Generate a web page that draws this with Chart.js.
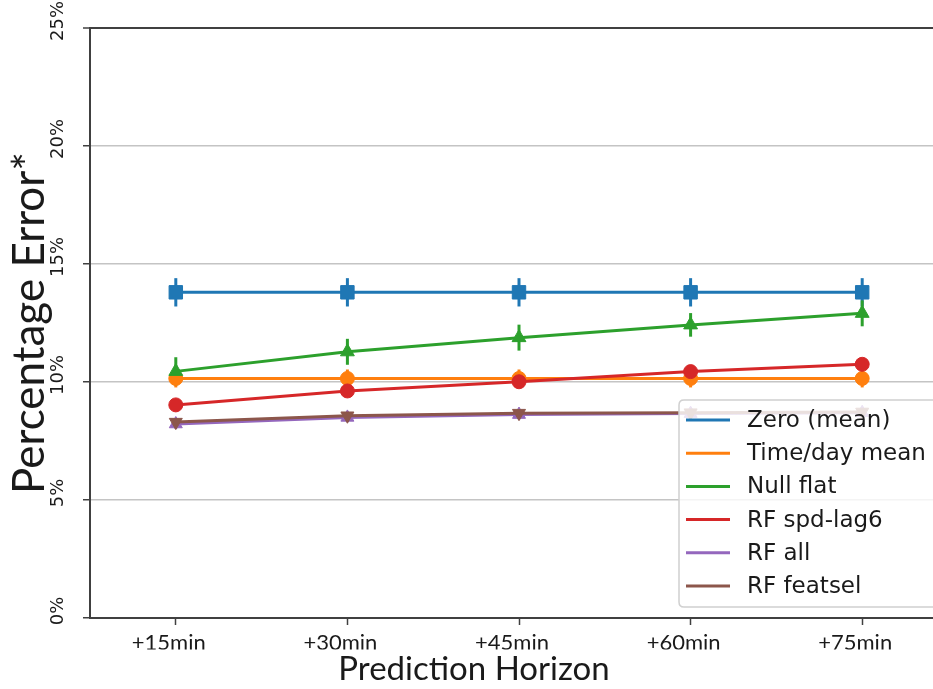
<!DOCTYPE html>
<html><head><meta charset="utf-8">
<script src="https://cdn.jsdelivr.net/npm/chart.js@4.4.1/dist/chart.umd.min.js"></script>
<style>
html,body{margin:0;padding:0;background:#fff;overflow:hidden;}
#wrap{position:relative;width:960px;height:689px;}
</style></head><body>
<div id="wrap"><canvas id="c"></canvas></div>
<script>
const categories = ['+15min','+30min','+45min','+60min','+75min'];
const yTickValues = [0,5,10,15,20,25];
const seriesNames = ['Zero (mean)','Time/day mean','Null flat','RF spd-lag6','RF all','RF featsel'];
const seriesColors = ['#1f77b4','#ff7f0e','#2ca02c','#d62728','#9467bd','#8c564b'];

const zeroMean      = [13.8, 13.8, 13.8, 13.8, 13.8];
const zeroMeanErr   = [0.6, 0.6, 0.6, 0.6, 0.6];
const timeDayMean   = [10.15, 10.15, 10.15, 10.15, 10.15];
const timeDayErr    = [0.38, 0.38, 0.38, 0.38, 0.38];
const nullFlat      = [10.45, 11.28, 11.88, 12.42, 12.91];
const nullFlatErr   = [0.6, 0.55, 0.55, 0.5, 0.55];
const rfSpdLag6     = [9.03, 9.62, 10.01, 10.44, 10.75];
const rfSpdLag6Err  = [0.15, 0.15, 0.15, 0.15, 0.15];
const rfAll         = [8.22, 8.5, 8.62, 8.66, 8.7];
const rfAllErr      = [0.2, 0.2, 0.2, 0.2, 0.2];
const rfFeatsel     = [8.3, 8.57, 8.68, 8.7, 8.73];
const rfFeatselErr  = [0.15, 0.15, 0.15, 0.15, 0.15];

const seriesValues = [zeroMean, timeDayMean, nullFlat, rfSpdLag6, rfAll, rfFeatsel];
const seriesErrors = [zeroMeanErr, timeDayErr, nullFlatErr, rfSpdLag6Err, rfAllErr, rfFeatselErr];
const pointStyles  = ['rect','circle','triangle','circle','triangle','triangle'];
const pointRots    = [0, 0, 0, 0, 0, 180];
const pointRadii   = [9.5, 7, 8, 7, 7.5, 7.5];

const datasets = seriesNames.map((name, i) => ({
  label: name,
  data: seriesValues[i],
  errors: seriesErrors[i],
  borderColor: seriesColors[i],
  backgroundColor: seriesColors[i],
  borderWidth: 3,
  pointStyle: pointStyles[i],
  pointRotation: pointRots[i],
  pointRadius: pointRadii[i],
  pointBorderWidth: 1,
  pointHoverRadius: pointRadii[i],
  tension: 0,
  fill: false,
  order: seriesNames.length - i
}));

const errorBarPlugin = {
  id: 'errbars',
  beforeDatasetsDraw(chart) {
    const ctx = chart.ctx, ys = chart.scales.y;
    chart.data.datasets.forEach((ds, i) => {
      const meta = chart.getDatasetMeta(i);
      ctx.save();
      ctx.strokeStyle = ds.borderColor;
      ctx.lineWidth = 3;
      meta.data.forEach((pt, j) => {
        const v = ds.data[j], e = ds.errors[j];
        ctx.beginPath();
        ctx.moveTo(pt.x, ys.getPixelForValue(v - e));
        ctx.lineTo(pt.x, ys.getPixelForValue(v + e));
        ctx.stroke();
      });
      ctx.restore();
    });
  }
};

const boxLegendPlugin = {
  id: 'boxLegend',
  afterDraw(chart, args, o) {
    const ctx = chart.ctx;
    ctx.save();
    const x = o.x, y = o.y, w = o.w, h = o.h, r = 5;
    ctx.beginPath();
    ctx.moveTo(x + r, y);
    ctx.lineTo(x + w - r, y); ctx.quadraticCurveTo(x + w, y, x + w, y + r);
    ctx.lineTo(x + w, y + h - r); ctx.quadraticCurveTo(x + w, y + h, x + w - r, y + h);
    ctx.lineTo(x + r, y + h); ctx.quadraticCurveTo(x, y + h, x, y + h - r);
    ctx.lineTo(x, y + r); ctx.quadraticCurveTo(x, y, x + r, y);
    ctx.closePath();
    ctx.fillStyle = 'rgba(255,255,255,0.82)';
    ctx.fill();
    ctx.strokeStyle = '#d0d0d0';
    ctx.lineWidth = 1.5;
    ctx.stroke();
    ctx.font = o.font;
    ctx.textBaseline = 'middle';
    ctx.textAlign = 'left';
    chart.data.datasets.forEach((ds, i) => {
      const cy = o.firstRow + i * o.rowGap;
      ctx.strokeStyle = ds.borderColor;
      ctx.lineWidth = 3;
      ctx.beginPath();
      ctx.moveTo(o.lineX0, cy); ctx.lineTo(o.lineX1, cy);
      ctx.stroke();
      ctx.fillStyle = '#1a1a1a';
      ctx.fillText(ds.label, o.textX, cy + 1);
    });
    ctx.restore();
  }
};

new Chart(document.getElementById('c'), {
  type: 'line',
  data: { labels: categories, datasets },
  plugins: [errorBarPlugin, boxLegendPlugin],
  options: {
    responsive: true,
    maintainAspectRatio: false,
    animation: false,
    layout: { padding: { left: 0, top: 28, right: 12, bottom: 0 } },
    plugins: {
      legend: { display: false },
      tooltip: { enabled: false },
      title: { display: true, position: 'bottom', text: 'Prediction Horizon', color: '#1a1a1a',
               font: { family: 'Lato', size: 33, weight: 'normal' }, padding: { top: 0, bottom: 0 } },
      boxLegend: { x: 679, y: 400, w: 300, h: 207, firstRow: 420, rowGap: 33.2,
                   lineX0: 686, lineX1: 730, textX: 747, font: '23px "DejaVu Sans"' }
    },
    scales: {
      x: {
        type: 'category',
        offset: true,
        afterFit(scale) { scale.height = 31.4; },
        grid: { display: true, drawOnChartArea: false, drawTicks: true, offset: false,
                tickLength: 7, tickColor: '#404040', tickWidth: 1.5 },
        border: { display: true, color: '#404040', width: 2 },
        ticks: { color: '#1a1a1a', padding: 5, labelOffset: -7,
                 font: { family: 'Lato', size: 22 }, maxRotation: 0 }
      },
      y: {
        min: 0, max: 25,
        afterFit(scale) { scale.width = 90; },
        afterBuildTicks(scale) { scale.ticks = yTickValues.map(v => ({ value: v })); },
        grid: {
          color: c => (c.tick && c.tick.value === 25) ? '#404040' : '#c4c4c4',
          lineWidth: c => (c.tick && c.tick.value === 25) ? 2 : 1.5,
          drawTicks: true, tickLength: 7, tickColor: '#404040', tickWidth: 1.5
        },
        border: { display: true, color: '#404040', width: 2 },
        ticks: {
          minRotation: 90, maxRotation: 90, crossAlign: 'center', padding: 5, labelOffset: -7,
          color: '#1a1a1a', font: { family: 'DejaVu Sans', size: 18 },
          callback: v => v + '%'
        },
        title: { display: true, text: 'Percentage Error*', color: '#1a1a1a',
                 font: { family: 'Lato', size: 44 }, padding: { top: 3, bottom: 0 } }
      }
    }
  }
});
</script>
</body></html>
